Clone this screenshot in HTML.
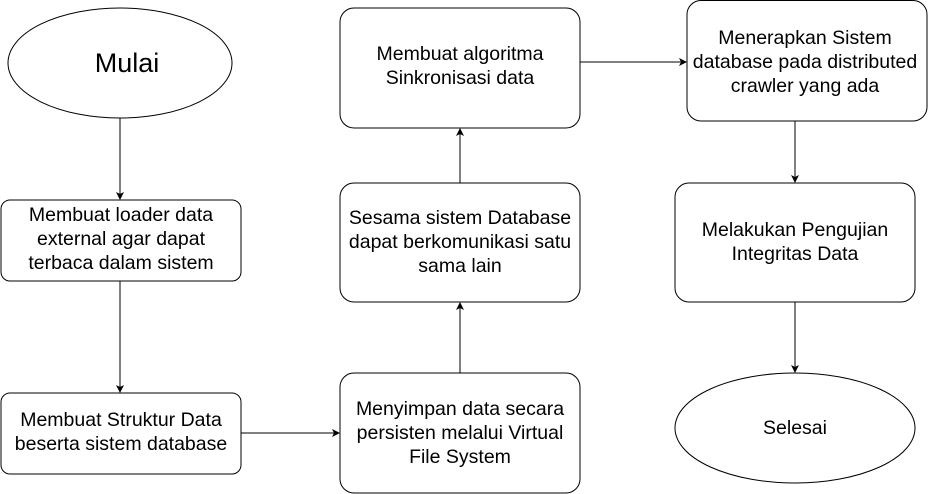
<!DOCTYPE html>
<html><head><meta charset="utf-8"><style>body{margin:0;background:#fff}svg{display:block}text{font-family:"Liberation Sans",sans-serif;font-size:19.5px;fill:#000}</style></head><body>
<svg width="928" height="494" viewBox="0 0 928 494" xmlns="http://www.w3.org/2000/svg">
<defs><marker id="a" markerWidth="8" markerHeight="8" refX="7" refY="4" orient="auto" markerUnits="userSpaceOnUse"><path d="M0,0 L8,4 L0,8 L2,4 z" fill="#000"/></marker></defs>
<g fill="#fff" stroke="#000" stroke-width="1">
<ellipse cx="120" cy="63" rx="112" ry="55"/>
<rect x="1" y="200" width="240" height="81" rx="9"/>
<rect x="1" y="393" width="240" height="81" rx="9"/>
<rect x="340" y="373" width="240" height="120" rx="14"/>
<rect x="340" y="183" width="240" height="119" rx="14"/>
<rect x="340" y="8" width="240" height="120" rx="14"/>
<rect x="687" y="0.5" width="240" height="120.5" rx="14"/>
<rect x="675" y="183" width="240" height="119" rx="14"/>
<ellipse cx="795" cy="428" rx="120" ry="55"/>
</g>
<g stroke="#000" stroke-width="1" marker-end="url(#a)">
<line x1="120" y1="118" x2="120" y2="199"/>
<line x1="120" y1="281" x2="120" y2="392"/>
<line x1="241" y1="433" x2="339" y2="433"/>
<line x1="460" y1="373" x2="460" y2="303"/>
<line x1="460" y1="183" x2="460" y2="129"/>
<line x1="580" y1="62" x2="686" y2="62"/>
<line x1="795" y1="121" x2="795" y2="182"/>
<line x1="795" y1="302" x2="795" y2="372"/>
</g>
<g text-anchor="middle">
<text x="127" y="72" style="font-size:27px">Mulai</text>
<text x="121" y="221">Membuat loader data</text>
<text x="121" y="245">external agar dapat</text>
<text x="121" y="269">terbaca dalam sistem</text>
<text x="121" y="426">Membuat Struktur Data</text>
<text x="121" y="450">beserta sistem database</text>
<text x="460" y="415">Menyimpan data secara</text>
<text x="460" y="439">persisten melalui Virtual</text>
<text x="460" y="463">File System</text>
<text x="460" y="224">Sesama sistem Database</text>
<text x="460" y="248">dapat berkomunikasi satu</text>
<text x="460" y="272">sama lain</text>
<text x="460" y="60">Membuat algoritma</text>
<text x="460" y="84">Sinkronisasi data</text>
<text x="805" y="44">Menerapkan Sistem</text>
<text x="805" y="68">database pada distributed</text>
<text x="805" y="92">crawler yang ada</text>
<text x="795" y="236">Melakukan Pengujian</text>
<text x="795" y="260">Integritas Data</text>
<text x="795" y="434">Selesai</text>
</g>
</svg>
</body></html>
